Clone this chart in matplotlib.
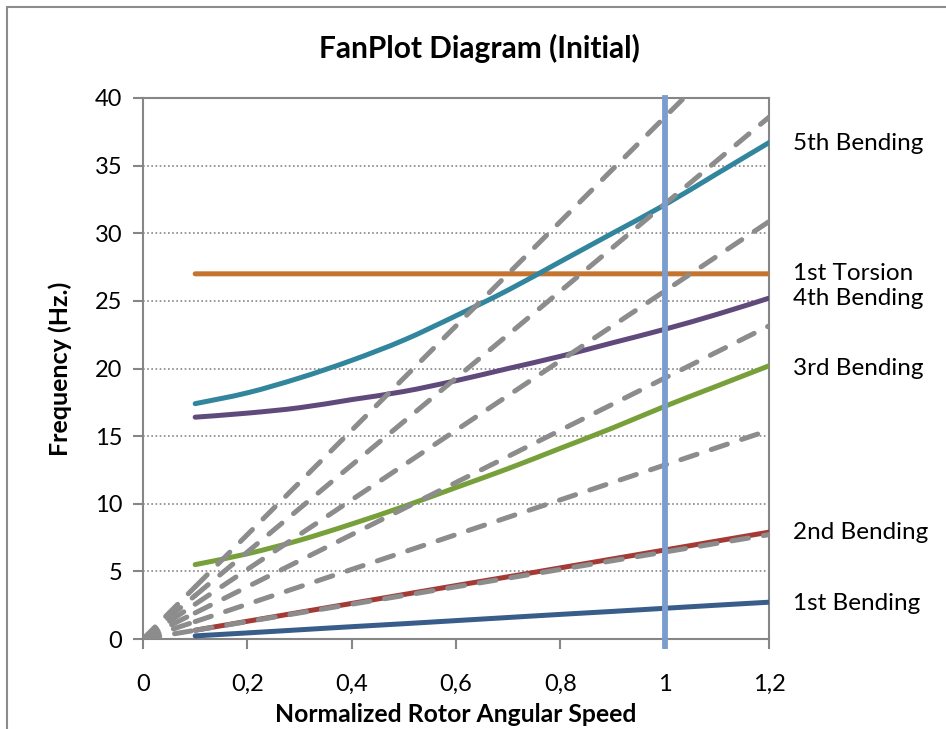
import numpy as np
import matplotlib
matplotlib.use('Agg')
from matplotlib import pyplot as plt
from matplotlib.patches import Rectangle, PathPatch
from matplotlib.path import Path

plt.rcParams['font.family'] = ['Lato', 'DejaVu Sans']

# rotor speed (normalized) and modal frequencies, Hz
speed = [0.1, 0.2, 0.3, 0.4, 0.5, 0.6, 0.7, 0.8, 0.9, 1.0, 1.1, 1.2]
bend1 = [0.23, 0.45, 0.68, 0.91, 1.13, 1.36, 1.59, 1.82, 2.04, 2.27, 2.50, 2.72]
bend2 = [0.65, 1.31, 1.97, 2.63, 3.29, 3.95, 4.60, 5.26, 5.92, 6.58, 7.24, 7.90]
bend3 = [5.5, 6.3, 7.3, 8.5, 9.8, 11.2, 12.6, 14.1, 15.6, 17.2, 18.7, 20.2]
bend4 = [16.4, 16.7, 17.1, 17.7, 18.3, 19.1, 20.0, 20.9, 21.9, 22.9, 24.0, 25.2]
bend5 = [17.4, 18.2, 19.3, 20.6, 22.1, 23.9, 25.8, 27.9, 30.0, 32.1, 34.4, 36.7]
tors1 = [27.0] * len(speed)

# engine order lines (multiples of the 1x slope)
order_slope = 6.43
orders = [1, 2, 3, 4, 5, 6]
order_x = [0.0, 0.1, 1.2]

nominal_speed = 1.0

mode_names = ['1st Bending', '2nd Bending', '3rd Bending', '4th Bending',
              '1st Torsion', '5th Bending']
mode_data = [bend1, bend2, bend3, bend4, tors1, bend5]
mode_colors = ['#385D8A', '#A33A36', '#77A03B', '#604A7B', '#C5742F', '#31859C']
label_y = [2.6, 7.9, 20.0, 25.2, 27.0, 36.6]

xticks = [0, 0.2, 0.4, 0.6, 0.8, 1.0, 1.2]
xtick_labels = ['0', '0,2', '0,4', '0,6', '0,8', '1', '1,2']
yticks = [0, 5, 10, 15, 20, 25, 30, 35, 40]


def smooth_path(x, y):
    # Catmull-Rom through the points, written as cubic Bezier segments
    x = np.asarray(x, float)
    y = np.asarray(y, float)
    pts = np.column_stack([x, y])
    ext = np.vstack([pts[0], pts, pts[-1]])
    verts = [pts[0]]
    codes = [Path.MOVETO]
    for i in range(len(pts) - 1):
        p0, p1, p2, p3 = ext[i], ext[i + 1], ext[i + 2], ext[i + 3]
        verts += [p1 + (p2 - p0) / 6, p2 - (p3 - p1) / 6, p2]
        codes += [Path.CURVE4] * 3
    return Path(verts, codes)


fig = plt.figure(figsize=(9.46, 7.29), dpi=100)
ax = fig.add_axes([143 / 946, 1 - 639 / 729, 626 / 946, 541 / 729])

for ydata, col in zip(mode_data, mode_colors):
    ax.add_patch(PathPatch(smooth_path(speed, ydata), fill=False, edgecolor=col,
                           lw=3.6, capstyle='round', zorder=3))

# dash pattern restarts at each data point, so draw piece by piece
for k in orders:
    for i in range(len(order_x) - 1):
        xs = order_x[i:i + 2]
        ys = [order_slope * k * v for v in xs]
        ax.plot(xs, ys, color='#8C8C8C', lw=3.6, dashes=(3.4, 3.0),
                dash_capstyle='round', zorder=4)

ax.plot([nominal_speed, nominal_speed], [-0.5, 40], color='#7B9DCE', lw=4.2,
        clip_on=False, zorder=5)

ax.set_xlim(0, 1.2)
ax.set_ylim(0, 40)
ax.set_xticks(xticks)
ax.set_xticklabels(xtick_labels)
ax.set_yticks(yticks)
ax.tick_params(axis='both', labelsize=17, length=7, width=1.5, color='#868686',
               direction='out', pad=8)
ax.tick_params(axis='x', pad=18)
for s in ax.spines.values():
    s.set_color('#868686')
    s.set_linewidth(1.5)
ax.yaxis.grid(True, linestyle=(0, (1, 1.5)), color='#868686', lw=1.2)
ax.set_axisbelow(True)

for name, yv in zip(mode_names, label_y):
    ax.text(1.246, yv, name, fontsize=17.5, va='center', ha='left',
            transform=ax.transData, clip_on=False)

fig.text(479 / 946, 1 - 48 / 729, 'FanPlot Diagram (Initial)', fontsize=21.5,
         fontweight='bold', ha='center', va='center')
ax.set_xlabel('Normalized Rotor Angular Speed', fontsize=17.8, fontweight='bold', labelpad=6)
ax.set_ylabel('Frequency (Hz.)', fontsize=18, fontweight='bold', labelpad=16)

# chart frame
fig.patches.append(Rectangle((7 / 946, -0.05), 1.1, 1.05 - 7 / 729, transform=fig.transFigure,
                             fill=False, edgecolor='#8C8C8C', lw=1.5))

fig.savefig('out.png', dpi=100)
